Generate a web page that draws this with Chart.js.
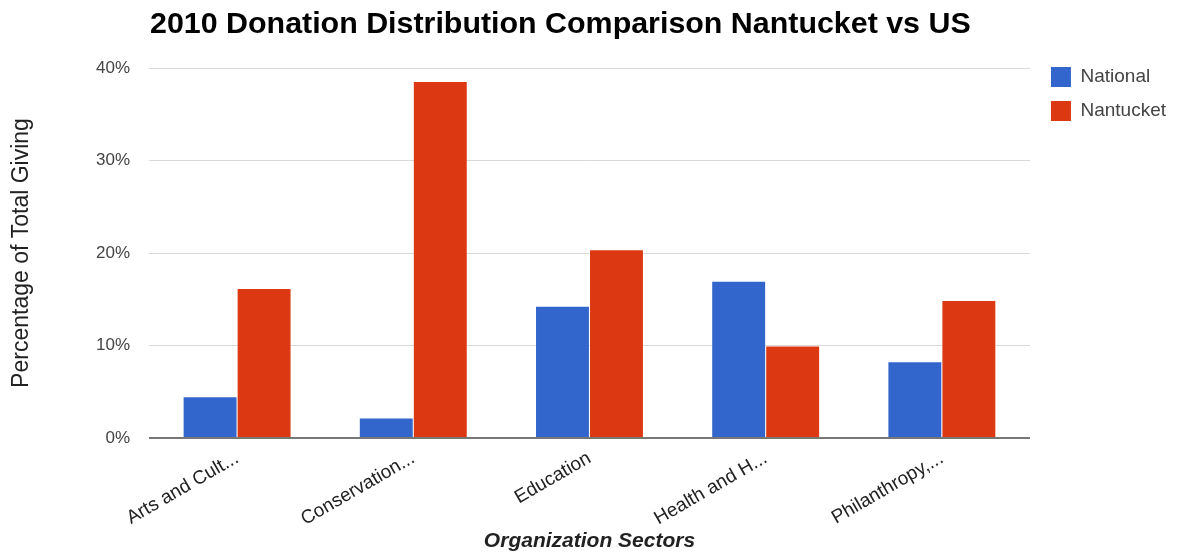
<!DOCTYPE html>
<html>
<head>
<meta charset="utf-8">
<script src="https://cdn.jsdelivr.net/npm/chart.js@4"></script>
<style>
  html, body { margin: 0; padding: 0; background: #fff; }
  #wrap { width: 1181px; height: 554px; }
</style>
</head>
<body>
<div id="wrap"><canvas id="myChart"></canvas></div>
<script>
var sectors = ['Arts and Cult...', 'Conservation...', 'Education', 'Health and H...', 'Philanthropy,...'];
var national = [4.4, 2.1, 14.2, 16.9, 8.2];
var nantucket = [16.1, 38.5, 20.3, 9.9, 14.8];
var yTicks = [0, 10, 20, 30, 40];

var chartTitle = '2010 Donation Distribution Comparison Nantucket vs US';

// title sits over the left edge of the plot, not centred on the canvas
var leftTitle = {
	id: 'leftTitle',
	afterLayout: function (chart) {
		// nudge the legend up and right so its first row lines up with the 40% line
		var lg = chart.legend;
		lg.top -= 15;
		lg.bottom -= 15;
		lg.left += 7;
		lg.right += 7;
	},
	afterDraw: function (chart) {
		var ctx = chart.ctx;
		ctx.save();
		ctx.font = 'bold 30.4px "Liberation Sans", Arial, sans-serif';
		ctx.fillStyle = '#000';
		ctx.textAlign = 'left';
		ctx.textBaseline = 'alphabetic';
		ctx.fillText(chartTitle, chart.chartArea.left + 1, 33);
		ctx.restore();
	},
};

Chart.defaults.font.family = '"Liberation Sans", Arial, sans-serif';

new Chart('myChart', {
	type: 'bar',
	data: {
		labels: sectors,
		datasets: [
			{ label: 'National', data: national, backgroundColor: '#3366cc' },
			{ label: 'Nantucket', data: nantucket, backgroundColor: '#dc3912' },
		],
	},
	options: {
		responsive: true,
		maintainAspectRatio: false,
		animation: false,
		layout: { padding: { top: 68, left: 4, right: 12, bottom: 0 } },
		datasets: { bar: { categoryPercentage: 0.613, barPercentage: 0.98 } },
		plugins: {
			legend: {
				position: 'right',
				align: 'start',
				labels: {
					boxWidth: 20,
					boxHeight: 20,
					padding: 14,
					color: '#444',
					font: { size: 19 },
				},
			},
			tooltip: { enabled: false },
		},
		scales: {
			x: {
				grid: { display: false },
				border: { display: false },
				ticks: {
					autoSkip: false,
					minRotation: 30,
					maxRotation: 30,
					padding: 1,
					color: '#222',
					font: { size: 19 },
				},
				title: {
					display: true,
					text: 'Organization Sectors',
					color: '#222',
					padding: { top: 4, bottom: 0 },
					font: { size: 21, weight: 'bold', style: 'italic' },
				},
				afterFit: function (s) { s.height = 116; },
			},
			y: {
				min: 0,
				max: 40,
				afterBuildTicks: function (s) {
					s.ticks = yTicks.map(function (v) { return { value: v }; });
				},
				border: { display: false },
				grid: {
					drawTicks: false,
					color: function (c) { return c.tick.value === 0 ? '#777' : '#d9d9d9'; },
					lineWidth: function (c) { return c.tick.value === 0 ? 2 : 1; },
				},
				ticks: {
					padding: 19,
					color: '#444',
					font: { size: 17 },
					callback: function (v) { return v + '%'; },
				},
				title: {
					display: true,
					text: 'Percentage of Total Giving',
					color: '#222',
					font: { size: 23 },
				},
				afterFit: function (s) { s.width = 145; },
			},
		},
	},
	plugins: [leftTitle],
});
</script>
</body>
</html>
